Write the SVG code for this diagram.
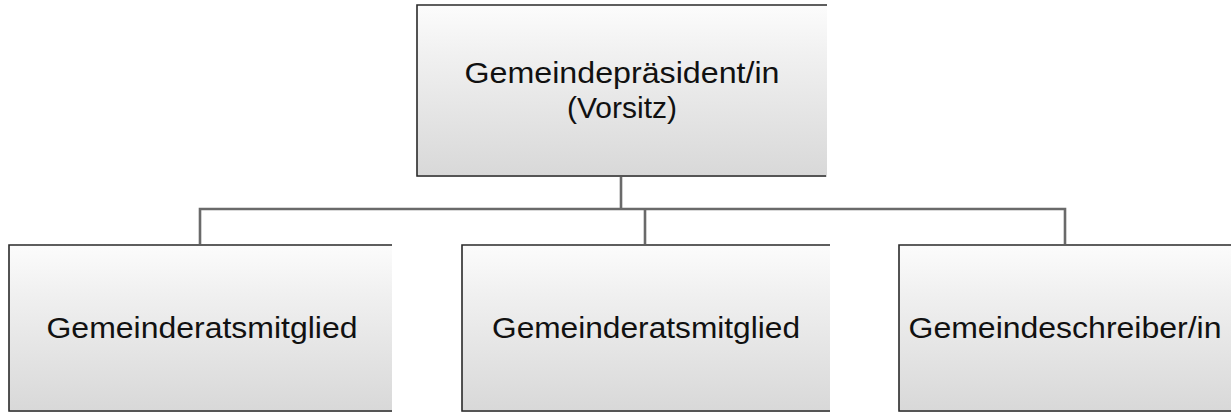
<svg xmlns="http://www.w3.org/2000/svg" width="1231" height="412" viewBox="0 0 1231 412">
<style>
.box{fill:url(#g);stroke:none}
.edge{fill:none;stroke:#2a2a2a;stroke-width:1.6}
.lbl{font-family:"Liberation Sans",Arial,sans-serif;font-size:29px;fill:#111;text-anchor:middle}
.conn{fill:none;stroke:#6a6a6a;stroke-width:2.6}
</style>
<defs>
<linearGradient id="g" x1="0" y1="0" x2="0" y2="1">
<stop offset="0" stop-color="#fcfcfc"/>
<stop offset="0.3" stop-color="#f0f0f0"/>
<stop offset="1" stop-color="#d8d8d8"/>
</linearGradient>
</defs>
<rect width="1231" height="412" fill="#ffffff"/>
<g id="connectors">
<path class="conn" d="M621 177 V209"/>
<path class="conn" d="M200 244 V209 H1065 V244"/>
<path class="conn" d="M645 209 V244"/>
</g>
<g id="n-praesident">
<rect class="box" x="417" y="5" width="410" height="172"/>
<path class="edge" d="M827 5 H417 V176 H826"/>
<text class="lbl" x="622" y="83" textLength="315" lengthAdjust="spacingAndGlyphs">Gemeindepräsident/in</text>
<text class="lbl" x="622" y="118" textLength="110" lengthAdjust="spacingAndGlyphs">(Vorsitz)</text>
</g>
<g id="n-mitglied1">
<rect class="box" x="9" y="244" width="383" height="168"/>
<path class="edge" d="M392 245 H9 V411 H392"/>
<text class="lbl" x="202" y="338" textLength="311" lengthAdjust="spacingAndGlyphs">Gemeinderatsmitglied</text>
</g>
<g id="n-mitglied2">
<rect class="box" x="462" y="244" width="368" height="168"/>
<path class="edge" d="M830 245 H462 V411 H830"/>
<text class="lbl" x="646" y="338" textLength="308" lengthAdjust="spacingAndGlyphs">Gemeinderatsmitglied</text>
</g>
<g id="n-schreiber">
<rect class="box" x="899" y="244" width="332" height="168"/>
<path class="edge" d="M1231 245 H899 V411 H1231"/>
<text class="lbl" x="1065" y="338" textLength="313" lengthAdjust="spacingAndGlyphs">Gemeindeschreiber/in</text>
</g>
</svg>
